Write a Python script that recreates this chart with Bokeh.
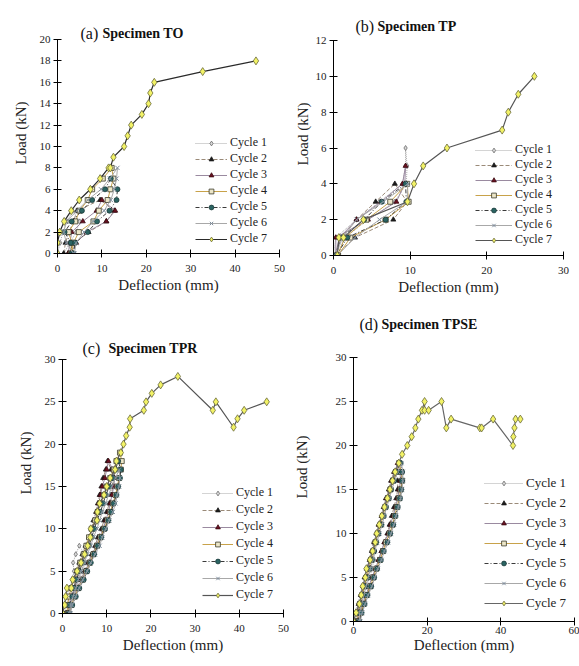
from bokeh.plotting import figure
from bokeh.layouts import column, row
from bokeh.models import Range1d, FixedTicker, Label
from bokeh.embed import file_html
from bokeh.resources import INLINE

SERIF = "Liberation Serif"
CYCLES = ["Cycle 1", "Cycle 2", "Cycle 3", "Cycle 4", "Cycle 5", "Cycle 6", "Cycle 7"]

# ---------------- (a) Specimen TO ----------------
TO_X = [
    [0.0, 0.6, 1.2, 2.2, 3.4, 5.0, 4.2, 2.8, 1.4],
    [1.4, 1.8, 2.6, 3.6, 4.4, 9.6, 12.8, 11.0, 7.0, 3.8, 2.4],
    [2.4, 2.8, 3.2, 5.7, 8.8, 10.0, 13.0, 11.0, 6.6, 4.2, 3.0],
    [3.0, 3.2, 2.5, 4.0, 5.0, 6.8, 7.8, 10.2, 12.2, 12.6, 11.9, 11.3, 9.3, 8.1, 4.8, 3.6, 3.2],
    [3.2, 3.0, 1.6, 3.2, 5.5, 7.8, 10.7, 12.0, 13.5, 13.3, 11.7, 8.9, 6.8, 4.0, 3.6],
    [3.6, 2.0, 1.4, 2.0, 4.4, 6.8, 9.8, 11.8, 13.5, 13.3, 12.8, 12.0, 10.5, 8.0, 6.0, 4.2, 3.8],
    [0.0, 0.0, 0.5, 1.5, 3.1, 4.9, 7.4, 9.6, 11.5, 11.9, 12.6, 15.0, 15.8, 16.6, 19.0, 20.5, 20.9, 21.8, 32.7, 44.7],
]
TO_Y = [
    [0, 1, 2, 3, 4, 3, 2, 1, 0],
    [0, 1, 2, 3, 4, 5, 4, 3, 2, 1, 0],
    [0, 1, 2, 3, 4, 5, 4, 3, 2, 1, 0],
    [0, 1, 2, 3, 4, 5, 6, 7, 8, 7, 6, 5, 4, 3, 2, 1, 0],
    [0, 1, 2, 3, 4, 5, 6, 7, 6, 5, 4, 3, 2, 1, 0],
    [0, 1, 2, 3, 4, 5, 6, 7, 8, 7, 6, 5, 4, 3, 2, 1, 0],
    [0, 1, 2, 3, 4, 5, 6, 7, 8, 8, 9, 10, 11, 12, 13, 14, 15, 16, 17, 18],
]

# ---------------- (b) Specimen TP ----------------
TP_X = [
    [0.0, 0.3, 3.0, 6.0, 9.0, 9.4, 9.4, 9.6, 9.5, 8.0, 4.5, 1.5, 0.2],
    [0.3, 2.8, 7.8, 9.6, 8.0, 5.5, 3.0, 1.0, 0.3],
    [0.3, 0.3, 4.5, 8.2, 9.3, 9.4, 9.0, 6.2, 3.0, 0.8, 0.2],
    [0.6, 2.2, 6.8, 9.8, 9.6, 7.4, 4.3, 1.5, 0.5],
    [0.4, 1.8, 6.8, 9.5, 9.4, 6.3, 4.0, 1.0, 0.2],
    [0.2, 1.2, 3.0, 6.5, 9.7, 9.6, 6.0, 2.8, 0.5],
    [0.5, 0.7, 1.3, 3.9, 9.65, 10.5, 11.7, 14.8, 22.0, 22.8, 24.1, 26.2],
]
TP_Y = [
    [0, 1, 2, 3, 4, 5, 6, 5, 4, 3, 2, 1, 0],
    [0, 1, 2, 3, 4, 3, 2, 1, 0],
    [0, 1, 2, 3, 4, 5, 4, 3, 2, 1, 0],
    [0, 1, 2, 3, 4, 3, 2, 1, 0],
    [0, 1, 2, 3, 4, 3, 2, 1, 0],
    [0, 1, 2, 3, 4, 3, 2, 1, 0],
    [0, 1, 1, 2, 3, 4, 5, 6, 7, 8, 9, 10],
]

# load sequences (kN) used by the many-step cycles
LOAD_8 = [0, 1, 2, 3, 4, 5, 6, 7, 8, 7, 6, 5, 4, 3, 2, 1, 0]
LOAD_9 = [0, 1, 2, 3, 4, 5, 6, 7, 8, 9, 8, 7, 6, 5, 4, 3, 2, 1, 0]
LOAD_17 = [0, 1, 2, 3, 4, 5, 6, 7, 8, 9, 10, 11, 12, 13, 14, 15, 16, 17,
           16, 15, 14, 13, 12, 11, 10, 9, 8, 7, 6, 5, 4, 3, 2, 1, 0]
LOAD_18 = [0, 1, 2, 3, 4, 5, 6, 7, 8, 9, 10, 11, 12, 13, 14, 15, 16, 17, 18,
           17, 16, 15, 14, 13, 12, 11, 10, 9, 8, 7, 6, 5, 4, 3, 2, 1, 0]
LOAD_19 = [0, 1, 2, 3, 4, 5, 6, 7, 8, 9, 10, 11, 12, 13, 14, 15, 16, 17, 18, 19,
           18, 17, 16, 15, 14, 13, 12, 11, 10, 9, 8, 7, 6, 5, 4, 3, 2, 1, 0]

# ---------------- (c) Specimen TPR ----------------
TPR_X = [
    [0.0, 0.5, 1.0, 1.6, 2.2, 2.6, 2.4, 3.0, 3.8,
     5.0, 5.3, 4.5, 3.8, 3.0, 2.2, 1.4, 0.6],
    [0.6, 1.0, 1.6, 2.5, 3.0, 3.2, 3.8, 4.5, 5.2, 6.0, 6.6, 7.0, 7.6, 8.0, 8.4, 8.8, 9.2, 9.8, 10.2,
     11.0, 11.5, 11.4, 11.0, 10.6, 10.0, 9.4, 8.8, 8.0, 7.4, 6.6, 5.8, 5.0, 4.2, 3.2, 2.4, 1.6, 1.0],
    [1.0, 1.4, 2.0, 2.8, 3.4, 3.6, 4.2, 4.8, 5.6, 6.2, 6.8, 7.4, 7.8, 8.2, 8.6, 9.0, 9.6, 10.0, 10.4,
     11.4, 11.8, 11.6, 11.2, 10.8, 10.4, 9.8, 9.2, 8.4, 7.6, 6.8, 6.0, 5.2, 4.4, 3.4, 2.6, 1.8, 1.2],
    [1.2, 1.2, 1.4, 2.0, 2.6, 3.4, 4.0, 4.8, 5.4, 6.0, 6.6, 7.4, 8.0, 8.6, 9.4, 10.0, 10.8, 11.6, 12.2, 13.0,
     13.4, 13.2, 12.8, 12.4, 12.0, 11.4, 10.8, 10.2, 9.4, 8.6, 7.8, 7.0, 6.2, 5.4, 4.6, 3.6, 2.8, 2.0, 1.4],
    [1.4, 1.6, 2.2, 2.6, 3.2, 3.8, 4.6, 5.2, 6.0, 6.6, 7.2, 7.8, 8.6, 9.2, 9.8, 10.6, 11.4, 12.0, 12.6,
     13.2, 13.0, 12.6, 12.2, 11.6, 11.0, 10.4, 9.6, 8.8, 8.0, 7.2, 6.4, 5.6, 4.8, 3.8, 3.0, 2.2, 1.6],
    [1.6, 1.8, 2.4, 3.0, 3.6, 4.2, 5.0, 5.6, 6.4, 7.0, 7.8, 8.4, 9.0, 9.8, 10.4, 11.2, 12.0, 12.8,
     13.0, 12.8, 12.4, 12.0, 11.4, 10.6, 9.8, 9.0, 8.4, 7.4, 6.4, 5.6, 4.6, 3.8, 3.0, 2.2, 1.8],
    [0.0, 0.5, 0.7, 1.0, 2.0, 2.3, 3.3, 4.2, 5.0, 5.7, 6.3, 6.4, 7.8, 7.9, 8.4, 9.4, 10.0, 10.8,
     11.9, 12.2, 13.2, 13.8, 14.4, 15.2, 15.3, 18.4, 18.9, 20.2, 22.2, 26.1, 34.0, 34.7, 38.7, 39.6, 41.1, 46.2],
]
TPR_Y = [
    LOAD_8, LOAD_18, LOAD_18, LOAD_19, LOAD_18, LOAD_17,
    [0, 1, 2, 3, 3, 4, 5, 6, 7, 8, 9, 10, 11, 12, 13, 14, 15, 16, 17, 18, 19, 20, 21, 22, 23,
     24, 25, 26, 27, 28, 24, 25, 22, 23, 24, 25],
]

# ---------------- (d) Specimen TPSE ----------------
TPSE_X = [
    [0.0, 0.5, 1.2, 1.8, 2.4, 3.0, 3.6, 4.2, 4.8, 5.4,
     5.8, 5.6, 5.0, 4.4, 3.6, 2.8, 2.0, 1.2, 0.6],
    [0.6, 0.8, 1.4, 2.0, 2.6, 3.0, 3.6, 4.4, 5.0, 5.6, 6.2, 6.8, 7.6, 8.2, 8.8, 9.6, 10.2, 11.0,
     12.0, 12.0, 11.6, 11.0, 10.4, 9.8, 9.2, 8.4, 7.6, 6.8, 6.0, 5.2, 4.4, 3.6, 2.6, 1.8, 1.2],
    [1.2, 1.0, 1.6, 2.2, 2.8, 3.4, 4.0, 4.6, 5.2, 5.8, 6.4, 7.0, 7.8, 8.4, 9.0, 9.8, 10.4, 11.2, 12.0,
     12.6, 12.8, 12.4, 12.0, 11.4, 10.8, 10.0, 9.4, 8.4, 7.6, 6.8, 6.0, 5.0, 4.2, 3.4, 2.4, 1.6, 1.2],
    [1.2, 1.2, 1.8, 2.4, 3.0, 3.6, 4.2, 4.8, 5.4, 6.0, 6.6, 7.4, 8.0, 8.6, 9.4, 10.0, 10.8, 11.6, 12.4,
     13.0, 13.2, 12.8, 12.4, 11.8, 11.2, 10.6, 9.8, 8.8, 8.0, 7.2, 6.2, 5.4, 4.6, 3.6, 2.8, 2.0, 1.4],
    [1.4, 1.4, 2.0, 2.6, 3.2, 3.8, 4.4, 5.0, 5.6, 6.2, 6.8, 7.6, 8.2, 8.8, 9.6, 10.2, 11.0, 11.8, 12.8,
     13.2, 13.2, 13.0, 12.6, 12.0, 11.4, 10.8, 10.0, 9.2, 8.2, 7.4, 6.4, 5.6, 4.8, 3.8, 3.0, 2.2, 1.6],
    [1.6, 1.6, 2.2, 2.8, 3.4, 4.0, 4.6, 5.2, 5.8, 6.4, 7.0, 7.8, 8.4, 9.0, 9.8, 10.4, 11.2, 12.0, 13.0,
     13.4, 13.4, 13.2, 12.8, 12.2, 11.6, 11.0, 10.2, 9.4, 8.4, 7.6, 6.6, 5.8, 5.0, 4.0, 3.2, 2.4, 1.8],
    [0.0, 0.7, 1.6, 2.1, 2.5, 3.2, 3.5, 4.5, 5.2, 5.9, 6.3, 7.0, 7.7, 8.4, 9.2, 9.9, 10.6, 11.3, 12.3, 13.2,
     14.6, 15.8, 16.8, 17.6, 18.6, 19.3, 19.3, 20.4, 23.9, 25.2, 26.5, 34.3, 34.8, 37.9, 43.3, 43.4, 43.7, 44.0, 45.3],
]
TPSE_Y = [
    LOAD_9, LOAD_17, LOAD_18, LOAD_18, LOAD_18, LOAD_18,
    [0, 1, 2, 3, 4, 5, 6, 7, 8, 9, 10, 11, 12, 13, 14, 15, 16, 17, 18, 19, 20, 21, 22, 23, 24, 25,
     24, 24, 25, 22, 23, 22, 22, 23, 20, 21, 22, 23, 23],
]

# ---------------- styles ----------------
STYLE = [
    dict(lc="#a8a8a8", dash="1 1", mk="diamond", fc="#d8d8d8", mc="#6a6a6a", ms=5),
    dict(lc="#9a8a78", dash="4 2", mk="triangle", fc="#1a1a1a", mc="#1a1a1a", ms=5),
    dict(lc="#9a8aa0", dash="solid", mk="triangle", fc="#6a1020", mc="#3a0a10", ms=5),
    dict(lc="#c8a24a", dash="solid", mk="square", fc="#ece6c8", mc="#3a3a2a", ms=5),
    dict(lc="#3a3a3a", dash="4 2 1 2", mk="circle", fc="#2a6462", mc="#1a3a3a", ms=5),
    dict(lc="#a8a8a8", dash="solid", mk="x", fc="#7d8c9c", mc="#7d8c9c", ms=6),
    dict(lc="#2a2a2a", dash="solid", mk="diamond", fc="#f2f266", mc="#6a6a3a", ms=8),
]


def panel(xs, ys, xmax, xticks, ymax, yticks, letter, name, geo, ext_top, leg, title_off,
          ylab_standoff, xtick_standoff, xlab_standoff, line7="#2a2a2a"):
    # geo: border left, frame width, border right, border top, frame height, border bottom
    bl, fw, br, bt, fh, bb = geo
    y_end = ymax * (fh + ext_top) / fh   # room above the axis for the panel title
    p = figure(frame_width=fw, frame_height=fh + ext_top, min_border_left=bl, min_border_right=br,
               min_border_top=bt - ext_top, min_border_bottom=bb,
               x_range=Range1d(0, xmax), y_range=Range1d(0, y_end),
               output_backend="svg", toolbar_location=None,
               x_axis_label="Deflection (mm)", y_axis_label="Load (kN)")
    p.grid.visible = False
    p.outline_line_color = None
    p.background_fill_color = "white"
    p.border_fill_color = "white"
    p.xaxis.ticker = FixedTicker(ticks=xticks)
    p.yaxis.ticker = FixedTicker(ticks=yticks)
    p.yaxis.bounds = (0, ymax)
    for ax in (p.xaxis[0], p.yaxis[0]):
        ax.axis_line_color = "black"
        ax.major_tick_line_color = "black"
        ax.minor_tick_line_color = None
        ax.major_tick_in = 4
        ax.major_tick_out = 4
        ax.major_label_text_font = SERIF
        ax.major_label_text_font_size = "11px"
        ax.major_label_text_color = "#222222"
        ax.axis_label_text_font = SERIF
        ax.axis_label_text_font_size = "15px"
        ax.axis_label_text_font_style = "normal"
        ax.axis_label_text_color = "#222222"
    p.yaxis.major_label_standoff = 3
    p.yaxis.axis_label_standoff = ylab_standoff
    p.xaxis.major_label_standoff = xtick_standoff
    p.xaxis.axis_label_standoff = xlab_standoff

    for i, (x, y) in enumerate(zip(xs, ys)):
        s = STYLE[i]
        lc = line7 if i == 6 else s["lc"]
        lw = 1.2 if i == 6 else 1
        p.line(x, y, line_color=lc, line_width=lw, line_dash=s["dash"], legend_label=CYCLES[i])
        if s["mk"] == "x":
            p.scatter(x, y, marker="x", size=s["ms"], line_color=s["mc"], line_width=1,
                      legend_label=CYCLES[i])
        else:
            p.scatter(x, y, marker=s["mk"], size=s["ms"], fill_color=s["fc"], line_color=s["mc"],
                      line_width=0.8, legend_label=CYCLES[i])

    lg = p.legend[0]
    lx, ly, gw, sp, fs = leg
    lg.location = (lx, ly)
    lg.padding = 0
    lg.margin = 0
    lg.border_line_color = None
    lg.background_fill_alpha = 0
    lg.label_text_font = SERIF
    lg.label_text_font_size = fs
    lg.label_text_color = "#222222"
    lg.glyph_width = gw
    lg.glyph_height = 12
    lg.label_height = 12
    lg.spacing = sp
    lg.label_standoff = 3

    ox, oy, ox2 = title_off
    p.add_layout(Label(x=0, y=ymax, x_offset=ox, y_offset=oy, text=letter, text_font=SERIF,
                       text_font_size="16px", text_baseline="alphabetic", text_color="#111111"))
    p.add_layout(Label(x=0, y=ymax, x_offset=ox2, y_offset=oy, text=name, text_font=SERIF,
                       text_font_size="14px", text_font_style="bold", text_baseline="alphabetic",
                       text_color="#111111"))
    return p


pa = panel(TO_X, TO_Y, 50, [0, 10, 20, 30, 40, 50], 20, [0, 2, 4, 6, 8, 10, 12, 14, 16, 18, 20],
           "(a)", "Specimen TO", (57, 222, 11, 39, 214, 47), 27, (138, 7, 32, 1, "12px"),
           (23, 6, 45), 8, 7, 2)
pb = panel(TP_X, TP_Y, 30, [0, 10, 20, 30], 12, [0, 2, 4, 6, 8, 10, 12],
           "(b)", "Specimen TP", (43, 230, 16, 40, 215, 45), 28, (142, 8, 37, 0, "12px"),
           (22, 14, 44), 2, 7, 2, line7="#555555")
pc = panel(TPR_X, TPR_Y, 50, [0, 10, 20, 30, 40, 50], 30, [0, 5, 10, 15, 20, 25, 30],
           "(c)", "Specimen TPR", (62, 221, 7, 59, 254, 52), 47, (140, 11, 31, 2, "12px"),
           (20, 11, 46), 8, 7, 2, line7="#555555")
pd = panel(TPSE_X, TPSE_Y, 60, [0, 20, 40, 60], 30, [0, 5, 10, 15, 20, 25, 30],
           "(d)", "Specimen TPSE", (62, 221, 5, 57, 264, 44), 45, (131, 10, 39, 4, "13px"),
           (6, 33, 28), 23, 1, 0, line7="#666666")

layout = column(row(pa, pb), row(pc, pd))
open("out.html", "w").write(file_html(layout, INLINE))
